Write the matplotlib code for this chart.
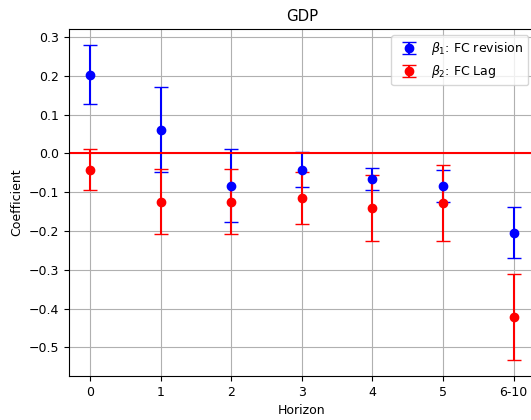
import matplotlib
matplotlib.use("Agg")
import matplotlib.pyplot as plt

plt.rcParams['font.size'] = 9

# horizons and estimated coefficients
horizons = ["0", "1", "2", "3", "4", "5", "6-10"]
beta1 = [0.203, 0.061, -0.083, -0.042, -0.066, -0.085, -0.204]
beta1_err = [0.077, 0.109, 0.093, 0.045, 0.029, 0.041, 0.066]
beta2 = [-0.042, -0.125, -0.125, -0.115, -0.142, -0.129, -0.422]
beta2_err = [0.052, 0.084, 0.084, 0.068, 0.085, 0.098, 0.111]

x = list(range(len(horizons)))

fig = plt.figure(figsize=(5.31, 4.2), dpi=100)
ax = fig.add_axes([0.130, 0.105, 0.877, 0.826])

ax.errorbar(x, beta1, yerr=beta1_err, fmt='o', color='blue', capsize=5,
            label=r'$\beta_1$: FC revision')
ax.errorbar(x, beta2, yerr=beta2_err, fmt='o', color='red', capsize=5,
            label=r'$\beta_2$: FC Lag')
ax.axhline(0, color='red', linewidth=1.5)

ax.set_xticks(x)
ax.set_xticklabels(horizons)
ax.set_xlim(-0.3, 6.3)
ax.grid(True)
ax.set_title("GDP")
ax.set_xlabel("Horizon")
ax.set_ylabel("Coefficient")
ax.legend(loc='upper right')

fig.savefig("out.png", dpi=100)
